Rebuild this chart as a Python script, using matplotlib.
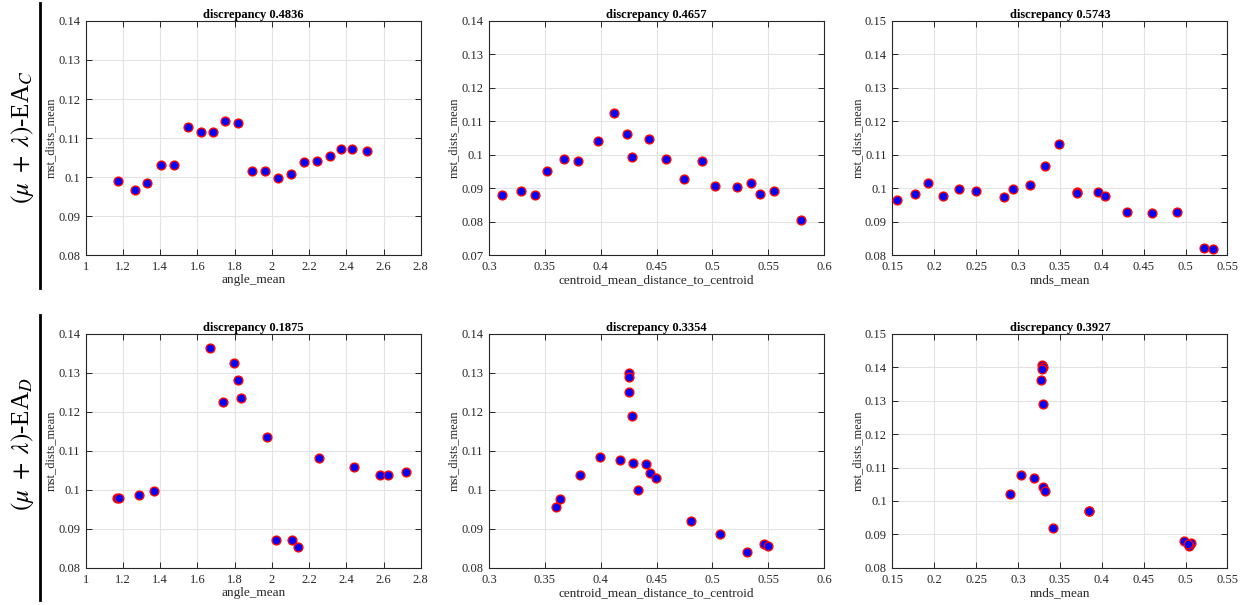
import matplotlib
matplotlib.use('Agg')
import matplotlib.pyplot as plt
from matplotlib.ticker import FuncFormatter
from matplotlib.lines import Line2D

plt.rcParams['font.family'] = ['Liberation Serif', 'DejaVu Serif']
plt.rcParams['mathtext.fontset'] = 'stix'

# ---------- data ----------
# row 1: (mu+lambda)-EA_C
angle_c_x = [1.174, 1.266, 1.330, 1.402, 1.476, 1.551, 1.617, 1.684, 1.748, 1.820,
             1.892, 1.962, 2.032, 2.104, 2.174, 2.244, 2.314, 2.369, 2.429, 2.511]
angle_c_y = [0.0989, 0.0967, 0.0985, 0.1032, 0.1032, 0.1129, 0.1115, 0.1115, 0.1143, 0.1138,
             0.1016, 0.1015, 0.0999, 0.1008, 0.1040, 0.1042, 0.1053, 0.1071, 0.1072, 0.1068]

cent_c_x = [0.3113, 0.3287, 0.3409, 0.3519, 0.3672, 0.3800, 0.3973, 0.4119, 0.4236, 0.4278,
            0.4430, 0.4585, 0.4749, 0.4907, 0.5024, 0.5221, 0.5343, 0.5424, 0.5555, 0.5794]
cent_c_y = [0.0879, 0.0893, 0.0880, 0.0953, 0.0988, 0.0983, 0.1041, 0.1124, 0.1062, 0.0993,
            0.1048, 0.0988, 0.0929, 0.0982, 0.0907, 0.0905, 0.0915, 0.0883, 0.0892, 0.0804]

nnds_c_x = [0.1552, 0.1767, 0.1926, 0.2101, 0.2300, 0.2503, 0.2833, 0.2941, 0.3140, 0.3319,
            0.3494, 0.3701, 0.3709, 0.3960, 0.4039, 0.4298, 0.4601, 0.4903, 0.5221, 0.5333]
nnds_c_y = [0.0965, 0.0983, 0.1017, 0.0977, 0.0997, 0.0991, 0.0973, 0.0999, 0.1011, 0.1068,
            0.1131, 0.0989, 0.0985, 0.0989, 0.0977, 0.0930, 0.0927, 0.0930, 0.0823, 0.0818]

# row 2: (mu+lambda)-EA_D
angle_d_x = [1.167, 1.176, 1.285, 1.366, 1.668, 1.739, 1.795, 1.817, 1.833, 1.973,
             2.021, 2.106, 2.141, 2.253, 2.443, 2.581, 2.622, 2.721]
angle_d_y = [0.0978, 0.0980, 0.0988, 0.0998, 0.1362, 0.1224, 0.1324, 0.1282, 0.1234, 0.1135,
             0.0872, 0.0872, 0.0853, 0.1081, 0.1058, 0.1037, 0.1037, 0.1046]

cent_d_x = [0.4251, 0.4257, 0.4254, 0.4278, 0.3994, 0.4173, 0.4287, 0.4406, 0.4445, 0.4496,
            0.4334, 0.3812, 0.3636, 0.3603, 0.4809, 0.5069, 0.5313, 0.5466, 0.5496]
cent_d_y = [0.1298, 0.1289, 0.1251, 0.1190, 0.1085, 0.1077, 0.1069, 0.1065, 0.1042, 0.1031,
            0.1000, 0.1038, 0.0977, 0.0957, 0.0919, 0.0887, 0.0840, 0.0862, 0.0855]

nnds_d_x = [0.3291, 0.3295, 0.3291, 0.3275, 0.3303, 0.3032, 0.3192, 0.3295, 0.3327, 0.2909,
            0.3844, 0.3846, 0.3418, 0.4987, 0.5066, 0.5046, 0.5026]
nnds_d_y = [0.1407, 0.1401, 0.1394, 0.1360, 0.1291, 0.1077, 0.1070, 0.1042, 0.1031, 0.1020,
            0.0970, 0.0969, 0.0919, 0.0880, 0.0874, 0.0866, 0.0872]

titles = [['discrepancy 0.4836', 'discrepancy 0.4657', 'discrepancy 0.5743'],
          ['discrepancy 0.1875', 'discrepancy 0.3354', 'discrepancy 0.3927']]
xlabels = ['angle_mean', 'centroid_mean_distance_to_centroid', 'nnds_mean']
row_labels = [r'$(\mu\ +\ \lambda)$-EA$_C$', r'$(\mu\ +\ \lambda)$-EA$_D$']

data = [[(angle_c_x, angle_c_y), (cent_c_x, cent_c_y), (nnds_c_x, nnds_c_y)],
        [(angle_d_x, angle_d_y), (cent_d_x, cent_d_y), (nnds_d_x, nnds_d_y)]]

xlims = [(1, 2.8), (0.3, 0.6), (0.15, 0.55)]
xsteps = [0.2, 0.05, 0.05]
ylims = [[(0.08, 0.14), (0.07, 0.14), (0.08, 0.15)],
         [(0.08, 0.14), (0.08, 0.14), (0.08, 0.15)]]

# ---------- layout ----------
fig = plt.figure(figsize=(12.5, 6.05), dpi=100)
lefts = [0.0686, 0.3912, 0.7139]
bottoms = [0.578, 0.0612]
w, h = 0.2680, 0.3875

gfmt = FuncFormatter(lambda v, p: ('%.4g' % v))
dark = '#262626'

for r in range(2):
    for c in range(3):
        ax = fig.add_axes([lefts[c], bottoms[r], w, h])
        xs, ys = data[r][c]
        ax.scatter(xs, ys, s=40, facecolor='#0000ff', edgecolor='#ff0000',
                   linewidths=1.0, zorder=3)
        ax.set_xlim(*xlims[c])
        ax.set_ylim(*ylims[r][c])
        x0, x1 = xlims[c]
        n = int(round((x1 - x0) / xsteps[c]))
        ax.set_xticks([x0 + i * xsteps[c] for i in range(n + 1)])
        y0, y1 = ylims[r][c]
        ny = int(round((y1 - y0) / 0.01))
        ax.set_yticks([y0 + i * 0.01 for i in range(ny + 1)])
        ax.xaxis.set_major_formatter(gfmt)
        ax.yaxis.set_major_formatter(gfmt)
        ax.grid(True, color='#e3e3e3', linewidth=0.8, zorder=0)
        ax.set_axisbelow(True)
        ax.tick_params(direction='in', length=4, width=0.7, top=True, right=True,
                       labelsize=9, colors=dark, pad=4)
        for sp in ax.spines.values():
            sp.set_color(dark)
            sp.set_linewidth(0.8)
        ax.set_title(titles[r][c], fontsize=9, fontweight='bold', pad=2)
        ax.set_xlabel(xlabels[c], fontsize=9.5, color=dark, labelpad=1)
        ax.set_ylabel('mst_dists_mean', fontsize=9, color=dark, labelpad=1)

# row labels and separator lines
fig.text(0.0176, 0.774, row_labels[0], rotation=90, fontsize=18, ha='center', va='center')
fig.text(0.0176, 0.266, row_labels[1], rotation=90, fontsize=18, ha='center', va='center')
fig.add_artist(Line2D([0.032, 0.032], [0.524, 0.995], color='black', lw=2, transform=fig.transFigure))
fig.add_artist(Line2D([0.032, 0.032], [0.008, 0.479], color='black', lw=2, transform=fig.transFigure))

fig.savefig('out.png', dpi=100)
